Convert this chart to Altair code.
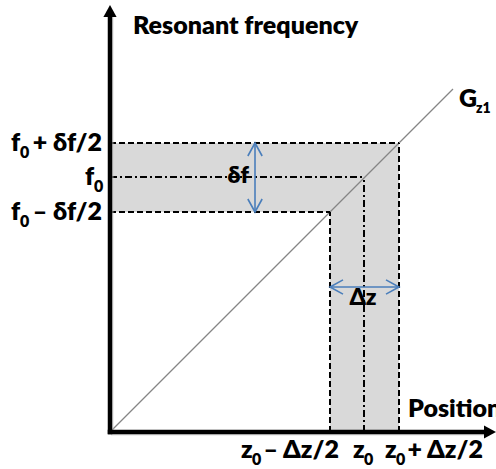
import altair as alt
import pandas as pd

# ---------------- data (chart units: 1 unit = 1 px, origin at the axes corner) -------------
f_levels = [289, 255, 220]            # f0+δf/2, f0, f0−δf/2
z_levels = [220, 254, 289]            # z0−Δz/2, z0, z0+Δz/2
f_base = ["f", "f", "f"]
f_sub = ["0", "0", "0"]
f_rest = ["+ δf/2", "", "– δf/2"]
z_base = ["z", "z", "z"]
z_sub = ["0", "0", "0"]
z_rest = ["– Δz/2", "", "+ Δz/2"]
gz_x = [0, 343]                      # G_z1 line, position
gz_y = [0, 343]                      # G_z1 line, resonant frequency
axis_x_end = 386
axis_y_end = 427
y_title = "Resonant frequency"
x_title = "Position"
gz_name = ("G", "z1")
df_label = "δf"
dz_label = "Δz"
df_arrow_x = 145
dz_arrow_y = 145

# ---------------- layout ----------------
W, H = 496, 469
X0, Y0 = 110, 432                     # pixel position of the origin
FONT = "Lato"
WEIGHT = 800
MAIN, SUB = 25, 16
BLUE = "#4a7ebb"
BAND = "#d9d9d9"

xs = alt.Scale(domain=[-X0, W - X0], range=[0, W], nice=False, zero=False)
ys = alt.Scale(domain=[Y0 - H, Y0], range=[H, 0], nice=False, zero=False)


def X(f="x"):
    return alt.X(f"{f}:Q", scale=xs, axis=None)


def Y(f="y"):
    return alt.Y(f"{f}:Q", scale=ys, axis=None)


def px(v):
    return v - X0


def py(v):
    return Y0 - v


f_hi, f_mid, f_lo = f_levels
z_lo, z_mid, z_hi = z_levels

# gray bands
bands = pd.DataFrame({
    "x": [0, z_lo], "x2": [z_hi, z_hi],
    "y": [f_lo, 0], "y2": [f_hi, f_lo],
})
band_layer = alt.Chart(bands).mark_rect(color=BAND).encode(
    x=X(), x2="x2:Q", y=Y(), y2="y2:Q")

# G_z1 line
gz = pd.DataFrame({"x": gz_x, "y": gz_y})
gz_layer = alt.Chart(gz).mark_line(color="#858585", strokeWidth=1.3).encode(x=X(), y=Y())


def segs(rows):
    return pd.DataFrame(rows, columns=["x", "x2", "y", "y2"])


dashed = segs([
    [0, z_hi, f_hi, f_hi], [z_hi, z_hi, 0, f_hi],
    [0, z_lo, f_lo, f_lo], [z_lo, z_lo, 0, f_lo],
])
dashdot = segs([
    [0, z_mid, f_mid, f_mid], [z_mid, z_mid, 0, f_mid],
])
dash_layer = alt.Chart(dashed).mark_rule(color="black", strokeWidth=2, strokeDash=[6, 3]).encode(
    x=X(), x2="x2:Q", y=Y(), y2="y2:Q")
dashdot_layer = alt.Chart(dashdot).mark_rule(color="black", strokeWidth=2, strokeDash=[7, 3, 2, 3]).encode(
    x=X(), x2="x2:Q", y=Y(), y2="y2:Q")

# blue double arrows
blue = segs([
    [df_arrow_x, df_arrow_x, f_lo, f_hi],
    [z_lo, z_hi, dz_arrow_y, dz_arrow_y],
])
blue_layer = alt.Chart(blue).mark_rule(color=BLUE, strokeWidth=1.6).encode(
    x=X(), x2="x2:Q", y=Y(), y2="y2:Q")


def head(x, y, path, size, color, filled):
    d = pd.DataFrame({"x": [x], "y": [y]})
    kw = dict(shape=path, size=size, color=color, filled=filled, opacity=1)
    if filled:
        kw["strokeWidth"] = 0
    else:
        kw["strokeWidth"] = 1.6
    return alt.Chart(d).mark_point(**kw).encode(x=X(), y=Y())


chev = 26 * 26
blue_heads = [
    head(df_arrow_x, f_hi, "M -0.55 1 L 0 0 L 0.55 1", chev, BLUE, False),
    head(df_arrow_x, f_lo, "M -0.55 -1 L 0 0 L 0.55 -1", chev, BLUE, False),
    head(z_lo, dz_arrow_y, "M 1 -0.55 L 0 0 L 1 0.55", chev, BLUE, False),
    head(z_hi, dz_arrow_y, "M -1 -0.55 L 0 0 L -1 0.55", chev, BLUE, False),
]

# axes with arrowheads
axes = segs([
    [0, axis_x_end - 11, 0, 0],
    [0, 0, 0, axis_y_end - 11],
])
shadow = segs([
    [1, axis_x_end - 11, -2, -2],
    [2, 2, -1, axis_y_end - 11],
])
shadow_layer = alt.Chart(shadow).mark_rule(color="#c8c8c8", strokeWidth=3, opacity=0.6).encode(
    x=X(), x2="x2:Q", y=Y(), y2="y2:Q")
axis_layer = alt.Chart(axes).mark_rule(color="black", strokeWidth=4.5, strokeCap="square").encode(
    x=X(), x2="x2:Q", y=Y(), y2="y2:Q")
tri = 12 * 12
axis_heads = [
    head(0, axis_y_end, "M 0 0 L 1.1 2 L -1.1 2 Z", tri, "black", True),
    head(axis_x_end, 0, "M 0 0 L -2 -1.1 L -2 1.1 Z", tri, "black", True),
]

# ---------------- text pieces ----------------
rows = []  # text, x, y, size, align


def add(t, xpx, ypx, size, align="left"):
    if t:
        rows.append([t, px(xpx), py(ypx), size, align])


# y tick labels
y_base_px = [Y0 - v + 8 for v in f_levels]
y_base_left = [11, 85, 11]
for i in range(3):
    b = y_base_px[i]
    add(f_base[i], y_base_left[i], b, MAIN)
    add(f_sub[i], y_base_left[i] + 9, b + 7, SUB)
    add(f_rest[i], 102, b, MAIN, "right")

# x tick labels
xb = 458
x_base_left = [241, 353, 385]
x_rest_right = [339, 0, 483]
for i in range(3):
    add(z_base[i], x_base_left[i], xb, MAIN)
    add(z_sub[i], x_base_left[i] + 11, xb + 7, SUB)
    add(z_rest[i], x_rest_right[i], xb, MAIN, "right")

add(y_title, 133, 34, MAIN)
add(x_title, 408, 417, MAIN)
add(gz_name[0], 459, 107, MAIN)
add(gz_name[1], 476, 113, 14)
add(df_label, 249, 183, MAIN - 2, "right")
add(dz_label, 363, 305, MAIN - 2, "center")

tdf = pd.DataFrame(rows, columns=["t", "x", "y", "s", "a"])
text_layers = []
for a in ["left", "right", "center"]:
    sub = tdf[tdf.a == a]
    if len(sub):
        text_layers.append(
            alt.Chart(sub).mark_text(align=a, baseline="alphabetic", font=FONT,
                                     fontWeight=WEIGHT, color="black").encode(
                x=X(), y=Y(), text="t:N",
                size=alt.Size("s:Q", scale=None, legend=None)))

chart = alt.layer(
    band_layer, gz_layer, dash_layer, dashdot_layer, blue_layer, *blue_heads,
    shadow_layer, axis_layer, *axis_heads, *text_layers,
).properties(width=W, height=H, padding=0, autosize="none", background="white"
).configure_view(stroke=None)

chart.save("out.html", embed_options={"renderer": "svg", "actions": False})
